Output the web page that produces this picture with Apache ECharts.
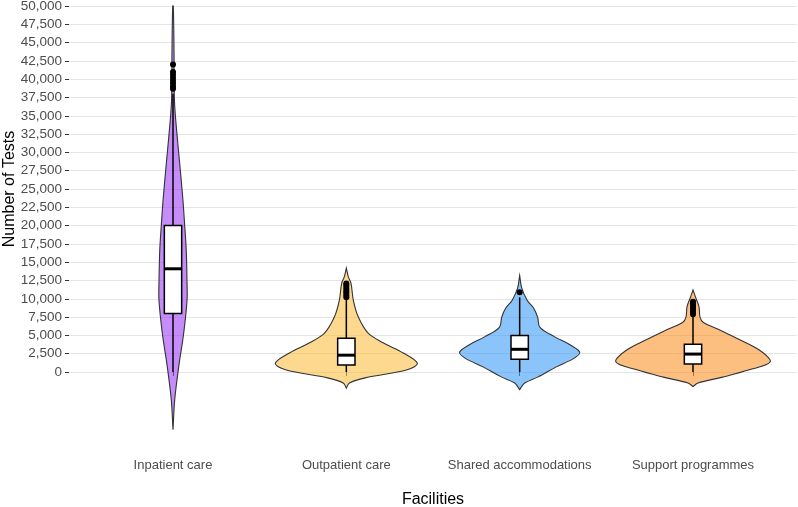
<!DOCTYPE html>
<html>
<head>
<meta charset="utf-8">
<script src="https://cdn.jsdelivr.net/npm/echarts@6/dist/echarts.min.js"></script>
<style>
  html, body { margin: 0; padding: 0; background: #fff; }
  #main { width: 798px; height: 507px; }
</style>
</head>
<body>
<div id="main"></div>
<script>
// categories
var categories = ['Inpatient care', 'Outpatient care', 'Shared accommodations', 'Support programmes'];
var fillColors = ['rgba(158,63,247,0.6)', 'rgba(250,192,67,0.6)', 'rgba(60,157,248,0.6)', 'rgba(252,148,43,0.6)'];

// violin profile: test values and relative density (1 = widest violin)
var inpatientVals = [-7900, -3800, 700, 5300, 9800, 12100, 16600, 20000, 23400, 28000, 32500, 37000, 43900, 50000];
var inpatientDens = [0, 0.022, 0.073, 0.137, 0.18, 0.18, 0.17, 0.15, 0.128, 0.09, 0.051, 0.019, 0.013, 0.004];

var outpatientVals = [-2200, -1500, -800, 300, 1200, 2600, 4000, 5300, 7500, 9800, 12100, 13000, 14200];
var outpatientDens = [0, 0.04, 0.24, 0.78, 0.91, 0.73, 0.47, 0.28, 0.154, 0.09, 0.06, 0.026, 0];

var sharedVals = [-2400, -1500, -700, 700, 1900, 2700, 3700, 4800, 6100, 7500, 8700, 9800, 11500, 13200];
var sharedDens = [0, 0.064, 0.23, 0.47, 0.7, 0.77, 0.65, 0.45, 0.26, 0.23, 0.18, 0.096, 0.026, 0];

var supportVals = [-2000, -1500, -700, 300, 1400, 3000, 4400, 5700, 6800, 7500, 8900, 10000, 11200];
var supportDens = [0, 0.064, 0.38, 0.72, 0.99, 0.85, 0.6, 0.35, 0.13, 0.09, 0.077, 0.04, 0];

// box stats: [lower whisker, q1, median, q3, upper whisker]
var inpatientBox = [0, 8000, 14100, 20000, 38000];
var outpatientBox = [0, 950, 2300, 4600, 10000];
var sharedBox = [0, 1750, 3100, 5000, 10200];
var supportBox = [0, 1100, 2450, 3800, 7700];

// outliers
var inpatientOut = [42000, 41000, 40600, 40200, 39800, 39400, 39000, 38700];
var outpatientOut = [10200, 10500, 10800, 11000, 11300, 11600, 11900, 12100];
var sharedOut = [10900];
var supportOut = [7900, 8200, 8500, 8800, 9100, 9400, 9600];

// y tick labels
var yTicks = [0, 2500, 5000, 7500, 10000, 12500, 15000, 17500, 20000, 22500, 25000,
  27500, 30000, 32500, 35000, 37500, 40000, 42500, 45000, 47500, 50000];

var violinVals = [inpatientVals, outpatientVals, sharedVals, supportVals];
var violinDens = [inpatientDens, outpatientDens, sharedDens, supportDens];
var boxStats = [inpatientBox, outpatientBox, sharedBox, supportBox];
var outliers = [inpatientOut, outpatientOut, sharedOut, supportOut];

var maxHalf = 0.45;  // half width of widest violin (x units)
var boxHalf = 0.05;

function fmt(v) {
  return String(v).replace(/\B(?=(\d{3})+(?!\d))/g, ',');
}

// 小提琴 + 箱线
function renderViolin(params, api) {
  var i = api.value(0) - 1;
  var pos = i + 1;
  var vals = violinVals[i], dens = violinDens[i], st = boxStats[i];
  var pts = [];
  var j;
  for (j = 0; j < vals.length; j++) {
    pts.push(api.coord([pos + dens[j] * maxHalf, vals[j]]));
  }
  for (j = vals.length - 1; j >= 0; j--) {
    pts.push(api.coord([pos - dens[j] * maxHalf, vals[j]]));
  }
  var lo = api.coord([pos, st[0]]);
  var q1 = api.coord([pos - boxHalf, st[1]]);
  var md = api.coord([pos - boxHalf, st[2]]);
  var q3 = api.coord([pos + boxHalf, st[3]]);
  var hi = api.coord([pos, st[4]]);
  return {
    type: 'group',
    children: [
      {
        type: 'polygon',
        shape: { points: pts, smooth: 0.35 },
        style: { fill: fillColors[i], stroke: '#333333', lineWidth: 1.1 }
      },
      {
        type: 'line',
        shape: { x1: lo[0], y1: lo[1], x2: hi[0], y2: hi[1] },
        style: { stroke: '#000', lineWidth: 1.5 }
      },
      {
        type: 'rect',
        shape: { x: q1[0], y: q3[1], width: q3[0] - q1[0], height: q1[1] - q3[1] },
        style: { fill: '#fff', stroke: '#000', lineWidth: 1.5 }
      },
      {
        type: 'line',
        shape: { x1: md[0], y1: md[1], x2: q3[0], y2: md[1] },
        style: { stroke: '#000', lineWidth: 3 }
      }
    ]
  };
}

var outData = [];
for (var k = 0; k < outliers.length; k++) {
  for (var m = 0; m < outliers[k].length; m++) {
    outData.push([k + 1, outliers[k][m]]);
  }
}

var myChart = echarts.init(document.getElementById('main'));
var option = {
  animation: false,
  grid: { left: 69, right: 1, top: 6, bottom: 135, containLabel: false, outerBoundsMode: 'none' },
  xAxis: {
    type: 'value',
    min: 0.4,
    max: 4.6,
    offset: 79,
    axisLine: { show: false },
    splitLine: { show: false },
    axisTick: { show: true, customValues: [1, 2, 3, 4], length: 4, lineStyle: { color: '#333' } },
    axisLabel: {
      customValues: [1, 2, 3, 4],
      margin: 8,
      color: '#4d4d4d',
      fontSize: 13,
      fontFamily: 'Liberation Sans, Arial, sans-serif',
      formatter: function (v) { return categories[Math.round(v) - 1]; }
    },
    name: 'Facilities',
    nameLocation: 'middle',
    nameGap: 41,
    nameMoveOverlap: false,
    nameTextStyle: { color: '#000', fontSize: 16, fontFamily: 'Liberation Sans, Arial, sans-serif' }
  },
  yAxis: {
    type: 'value',
    min: 0,
    max: 50000,
    interval: 2500,
    axisLine: { show: false },
    axisTick: { show: true, length: 4, lineStyle: { color: '#333' } },
    splitLine: { show: true, lineStyle: { color: '#e4e4e4', width: 1 } },
    axisLabel: {
      margin: 7,
      color: '#4d4d4d',
      fontSize: 13.5,
      fontFamily: 'Liberation Sans, Arial, sans-serif',
      customValues: yTicks,
      formatter: function (v) { return fmt(v); }
    },
    name: 'Number of Tests',
    nameLocation: 'middle',
    nameGap: 51,
    nameMoveOverlap: false,
    nameTextStyle: { color: '#000', fontSize: 16, fontFamily: 'Liberation Sans, Arial, sans-serif' }
  },
  series: [
    {
      type: 'custom',
      clip: false,
      renderItem: renderViolin,
      data: [[1], [2], [3], [4]],
      z: 2
    },
    {
      type: 'scatter',
      data: outData,
      symbolSize: 6,
      itemStyle: { color: '#000', opacity: 1 },
      z: 3
    }
  ]
};
myChart.setOption(option);
</script>
</body>
</html>
